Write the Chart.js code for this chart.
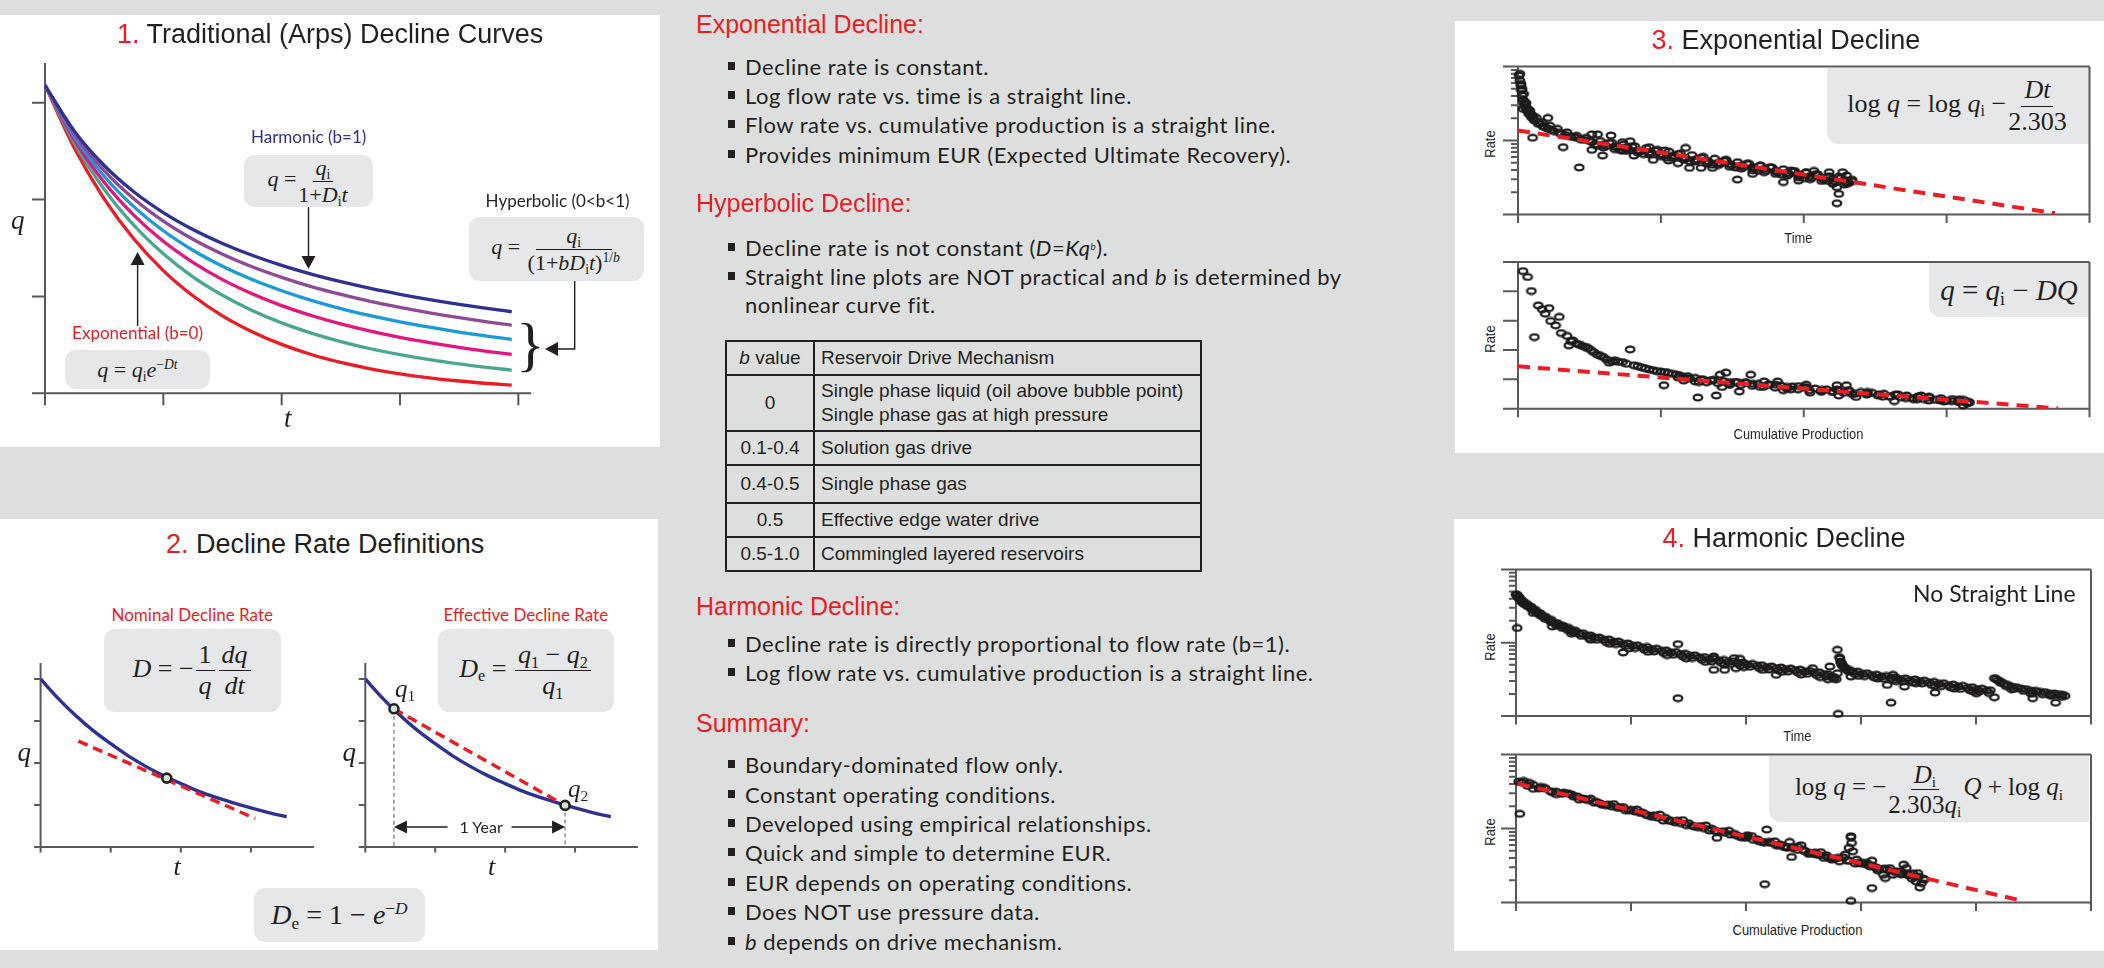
<!DOCTYPE html>
<html>
<head>
<meta charset="utf-8">
<title>Decline Curve Analysis</title>
<script src="https://cdn.jsdelivr.net/npm/chart.js@4.4.1/dist/chart.umd.min.js"></script>
<style>
html,body{margin:0;padding:0}
body{width:2104px;height:968px;background:#dddfde;position:relative;overflow:hidden;font-family:"Liberation Sans",Arial,sans-serif;color:#231f20}
.panel{position:absolute;background:#fff;z-index:0}
.box{position:absolute;background:#e6e7e8;border-radius:11px;z-index:1;display:flex;align-items:center;justify-content:center;font-family:"Liberation Serif","Times New Roman",serif;white-space:nowrap;color:#231f20}
.box i{font-style:italic}
canvas{position:absolute;z-index:2}
.t{position:absolute;white-space:nowrap;z-index:3;line-height:1.2}
.title{font-size:27px}
.title .n{color:#ed1c24}
.head{font-size:25px;color:#ed1c24}
.bul{font-family:Lato,"Liberation Sans",sans-serif;font-size:22px;letter-spacing:0.5px}
.sq{display:inline-block;width:7px;height:8px;background:#231f20;vertical-align:5px;margin-right:10px}
.lab{font-family:Lato,"Liberation Sans",sans-serif;font-size:17px}
.ser{font-family:"Liberation Serif","Times New Roman",serif;font-style:italic}
.cond{font-family:"Liberation Sans Narrow","Liberation Sans",sans-serif;font-size:15px}
.t.cond{transform:scaleX(.86)}
.rot{position:absolute;z-index:3;white-space:nowrap;transform:translate(-50%,-50%) rotate(-90deg) scaleX(.86)}
.fr{display:inline-flex;flex-direction:column;align-items:center;vertical-align:middle;line-height:1.08;margin:0 2px}
.fr>span:first-child{border-bottom:1.5px solid #231f20;padding:0 3px 1px}
.fr>span:last-child{padding-top:1px}
sub{font-size:62%;vertical-align:-0.28em;font-style:normal;line-height:0}
sup{font-size:62%;vertical-align:0.6em;line-height:0}
.tb{position:absolute;left:725px;top:340px;border-collapse:collapse;width:477px;font-size:19px;z-index:3}
.tb td{border:2px solid #231f20;padding:0 0 0 6px;line-height:24px;white-space:nowrap}
.tb td.c{text-align:center;width:86px;padding:0}
</style>
</head>
<body>

<!-- white panels -->
<div class="panel" style="left:0;top:15px;width:660px;height:432px"></div>
<div class="panel" style="left:0;top:519px;width:658px;height:431px"></div>
<div class="panel" style="left:1455px;top:21px;width:649px;height:432px"></div>
<div class="panel" style="left:1454px;top:519px;width:650px;height:432px"></div>

<!-- formula boxes, panel 1 -->
<div class="box" style="left:244px;top:155px;width:129px;height:52px;font-size:22px"><span><i>q</i>&nbsp;=<span class="fr"><span><i>q</i><sub>i</sub></span><span>1+<i>D</i><sub>i</sub><i>t</i></span></span></span></div>
<div class="box" style="left:469px;top:217px;width:175px;height:64px;font-size:22px"><span><i>q</i>&nbsp;=&nbsp;<span class="fr"><span>&nbsp;&nbsp;&nbsp;&nbsp;&nbsp;<i>q</i><sub>i</sub>&nbsp;&nbsp;&nbsp;&nbsp;&nbsp;</span><span>(1+<i>bD</i><sub>i</sub><i>t</i>)<sup>1/<i>b</i></sup></span></span></span></div>
<div class="box" style="left:65px;top:350px;width:145px;height:39px;font-size:22px"><span><i>q</i>&nbsp;=&nbsp;<i>q</i><sub>i</sub><i>e</i><sup>−<i>Dt</i></sup></span></div>

<!-- formula boxes, panel 2 -->
<div class="box" style="left:104px;top:629px;width:177px;height:83px;font-size:26px"><span><i>D</i>&nbsp;=&nbsp;−<span class="fr"><span>1</span><span><i>q</i></span></span><span class="fr"><span><i>dq</i></span><span><i>dt</i></span></span></span></div>
<div class="box" style="left:438px;top:629px;width:176px;height:83px;font-size:26px"><span><i>D</i><sub>e</sub>&nbsp;=&nbsp;<span class="fr"><span><i>q</i><sub>1</sub>&nbsp;−&nbsp;<i>q</i><sub>2</sub></span><span><i>q</i><sub>1</sub></span></span></span></div>
<div class="box" style="left:254px;top:888px;width:171px;height:54px;font-size:28px"><span><i>D</i><sub>e</sub>&nbsp;=&nbsp;1&nbsp;−&nbsp;<i>e</i><sup>−<i>D</i></sup></span></div>

<!-- formula boxes, panels 3 and 4 -->
<div class="box" style="left:1827px;top:68px;width:262px;height:76px;font-size:26px;border-radius:0 0 0 12px"><span>log&nbsp;<i>q</i>&nbsp;=&nbsp;log&nbsp;<i>q</i><sub>i</sub>&nbsp;−<span class="fr"><span><i>Dt</i></span><span>2.303</span></span></span></div>
<div class="box" style="left:1929px;top:263px;width:160px;height:54px;font-size:29px;border-radius:0 0 0 12px"><span><i>q</i>&nbsp;=&nbsp;<i>q</i><sub>i</sub>&nbsp;−&nbsp;<i>DQ</i></span></div>
<div class="box" style="left:1769px;top:756px;width:320px;height:66px;font-size:25px;border-radius:0 0 0 12px"><span>log&nbsp;<i>q</i>&nbsp;=&nbsp;−<span class="fr"><span><i>D</i><sub>i</sub></span><span>2.303<i>q</i><sub>i</sub></span></span><i>Q</i>&nbsp;+&nbsp;log&nbsp;<i>q</i><sub>i</sub></span></div>

<!-- panel titles -->
<div class="t title" data-cx="330" data-b="43"><span class="n">1.</span> Traditional (Arps) Decline Curves</div>
<div class="t title" data-cx="325" data-b="553"><span class="n">2.</span> Decline Rate Definitions</div>
<div class="t title" data-cx="1786" data-b="49"><span class="n">3.</span> Exponential Decline</div>
<div class="t title" data-cx="1784" data-b="547"><span class="n">4.</span> Harmonic Decline</div>

<!-- panel 1 labels -->
<div class="t lab" data-cx="308.5" data-b="143" style="color:#2e3192">Harmonic (b=1)</div>
<div class="t lab" data-cx="557.6" data-b="207">Hyperbolic (0&lt;b&lt;1)</div>
<div class="t lab" data-cx="137.6" data-b="339" style="color:#ed1c24">Exponential (b=0)</div>
<div class="t ser" data-cx="18" data-b="229" style="font-size:27px">q</div>
<div class="t ser" data-cx="288" data-b="427" style="font-size:27px">t</div>

<!-- panel 2 labels -->
<div class="t lab" data-cx="192" data-b="621" style="color:#ed1c24">Nominal Decline Rate</div>
<div class="t lab" data-cx="526" data-b="621" style="color:#ed1c24">Effective Decline Rate</div>
<div class="t ser" data-cx="24.5" data-b="761" style="font-size:27px">q</div>
<div class="t ser" data-cx="349.5" data-b="761" style="font-size:27px">q</div>
<div class="t ser" data-cx="177" data-b="875" style="font-size:26px">t</div>
<div class="t ser" data-cx="491.5" data-b="875" style="font-size:26px">t</div>
<div class="t ser" data-x="395" data-b="697" style="font-size:25px">q<sub>1</sub></div>
<div class="t ser" data-x="568" data-b="797" style="font-size:25px">q<sub>2</sub></div>
<div class="t lab" data-cx="481" data-b="833" style="font-size:16px">1 Year</div>

<!-- panels 3 and 4 labels -->
<div class="t cond" data-cx="1798" data-b="243">Time</div>
<div class="t cond" data-cx="1798" data-b="439">Cumulative Production</div>
<div class="t cond" data-cx="1797" data-b="741">Time</div>
<div class="t cond" data-cx="1797" data-b="935">Cumulative Production</div>
<div class="rot cond" style="left:1489px;top:144px">Rate</div>
<div class="rot cond" style="left:1489px;top:339px">Rate</div>
<div class="rot cond" style="left:1489px;top:647px">Rate</div>
<div class="rot cond" style="left:1489px;top:832px">Rate</div>
<div class="t lab" data-rx="2076" data-b="602" style="font-size:23px">No Straight Line</div>

<!-- middle column -->
<div class="t head" data-x="696" data-b="33">Exponential Decline:</div>
<div class="t bul" data-x="728" data-b="75"><span class="sq"></span>Decline rate is constant.</div>
<div class="t bul" data-x="728" data-b="104"><span class="sq"></span>Log flow rate vs. time is a straight line.</div>
<div class="t bul" data-x="728" data-b="133"><span class="sq"></span>Flow rate vs. cumulative production is a straight line.</div>
<div class="t bul" data-x="728" data-b="163"><span class="sq"></span>Provides minimum EUR (Expected Ultimate Recovery).</div>

<div class="t head" data-x="696" data-b="212">Hyperbolic Decline:</div>
<div class="t bul" data-x="728" data-b="256"><span class="sq"></span>Decline rate is not constant (<i>D</i>=<i>Kq</i><sup style="font-size:45%"><i>b</i></sup>).</div>
<div class="t bul" data-x="728" data-b="285"><span class="sq"></span>Straight line plots are NOT practical and <i>b</i> is determined by</div>
<div class="t bul" data-x="745" data-b="313">nonlinear curve fit.</div>

<table class="tb">
<tr style="height:34px"><td class="c"><i>b</i> value</td><td>Reservoir Drive Mechanism</td></tr>
<tr style="height:56px"><td class="c">0</td><td>Single phase liquid (oil above bubble point)<br>Single phase gas at high pressure</td></tr>
<tr style="height:34px"><td class="c">0.1-0.4</td><td>Solution gas drive</td></tr>
<tr style="height:38px"><td class="c">0.4-0.5</td><td>Single phase gas</td></tr>
<tr style="height:34px"><td class="c">0.5</td><td>Effective edge water drive</td></tr>
<tr style="height:34px"><td class="c">0.5-1.0</td><td>Commingled layered reservoirs</td></tr>
</table>

<div class="t head" data-x="696" data-b="615">Harmonic Decline:</div>
<div class="t bul" data-x="728" data-b="652"><span class="sq"></span>Decline rate is directly proportional to flow rate (b=1).</div>
<div class="t bul" data-x="728" data-b="681"><span class="sq"></span>Log flow rate vs. cumulative production is a straight line.</div>

<div class="t head" data-x="696" data-b="732">Summary:</div>
<div class="t bul" data-x="728" data-b="773"><span class="sq"></span>Boundary-dominated flow only.</div>
<div class="t bul" data-x="728" data-b="803"><span class="sq"></span>Constant operating conditions.</div>
<div class="t bul" data-x="728" data-b="832"><span class="sq"></span>Developed using empirical relationships.</div>
<div class="t bul" data-x="728" data-b="861"><span class="sq"></span>Quick and simple to determine EUR.</div>
<div class="t bul" data-x="728" data-b="891"><span class="sq"></span>EUR depends on operating conditions.</div>
<div class="t bul" data-x="728" data-b="920"><span class="sq"></span>Does NOT use pressure data.</div>
<div class="t bul" data-x="728" data-b="950"><span class="sq"></span><i>b</i> depends on drive mechanism.</div>

<!-- callout arrows and brace for panel 1 -->
<svg width="2104" height="968" style="position:absolute;left:0;top:0;z-index:3;pointer-events:none">
  <g stroke="#231f20" stroke-width="1.4" fill="none">
    <line x1="308.5" y1="207" x2="308.5" y2="258"/>
    <line x1="137.6" y1="326" x2="137.6" y2="263"/>
    <polyline points="574.7,281 574.7,349 556,349"/>
  </g>
  <g fill="#231f20">
    <polygon points="301.5,256 315.5,256 308.5,269"/>
    <polygon points="130.6,265 144.6,265 137.6,252"/>
    <polygon points="558,342 558,356 545,349"/>
  </g>
  <text x="516" y="364" font-family="Liberation Serif, Times New Roman, serif" font-size="60" fill="#231f20">}</text>
</svg>

<script>
// ---------- Arps decline curves (panel 1) ----------
const ARPS_T      = [0, 0.25, 0.5, 0.75, 1, 1.25, 1.5, 1.75, 2, 2.25, 2.5, 2.75, 3, 3.25, 3.5, 3.75, 3.944];
const Q_HARMONIC  = [3.18, 2.704, 2.352, 2.081, 1.866, 1.691, 1.547, 1.425, 1.321, 1.231, 1.152, 1.083, 1.022, 0.967, 0.918, 0.874, 0.842];
const Q_B08       = [3.18, 2.675, 2.299, 2.008, 1.777, 1.590, 1.436, 1.306, 1.197, 1.102, 1.021, 0.949, 0.887, 0.831, 0.781, 0.736, 0.705];
const Q_B06       = [3.18, 2.645, 2.241, 1.927, 1.678, 1.477, 1.312, 1.174, 1.059, 0.960, 0.875, 0.802, 0.738, 0.682, 0.632, 0.588, 0.557];
const Q_B04       = [3.18, 2.614, 2.179, 1.840, 1.569, 1.352, 1.174, 1.028, 0.905, 0.803, 0.716, 0.641, 0.577, 0.522, 0.473, 0.431, 0.402];
const Q_B02       = [3.18, 2.577, 2.107, 1.736, 1.441, 1.203, 1.012, 0.855, 0.727, 0.622, 0.534, 0.460, 0.399, 0.347, 0.303, 0.265, 0.240];
const Q_EXP       = [3.18, 2.527, 2.008, 1.595, 1.267, 1.007, 0.800, 0.636, 0.505, 0.401, 0.319, 0.253, 0.201, 0.160, 0.127, 0.101, 0.085];
const ARPS_COLORS = ['#2e3192', '#8f4a97', '#1a9ad6', '#e5147f', '#4aa78f', '#ed1c24'];

// ---------- decline-rate definitions (panel 2) ----------
const DEF_T = [0, 0.25, 0.5, 0.75, 1, 1.25, 1.5, 1.75, 2, 2.25, 2.5, 2.75, 3, 3.25, 3.51];
const DEF_Q = [4.00, 3.54, 3.13, 2.77, 2.46, 2.17, 1.92, 1.70, 1.51, 1.33, 1.18, 1.05, 0.93, 0.82, 0.72];
const NOMINAL_TANGENT = [[0.54, 2.52], [3.06, 0.68]];
const NOMINAL_POINT   = [[1.8, 1.64]];
const EFFECTIVE_POINTS = [[0.41, 3.29], [2.857, 0.99]];
const ONE_YEAR_LEVEL = 0.476;

// ---------- exponential field data (panel 3) ----------
const EXP_TIME_RATE = [
  [0.008,75.6],[0.013,64.7],[0.019,55.4],[0.024,47.4],[0.029,40.6],[0.035,35.4],[0.043,31.3],[0.051,28.2],[0.062,25.4],[0.075,22.9],
  [0.094,20.7],[0.115,18.6],[0.142,16.8],[0.174,15.5],[0.209,14.4],[0.249,13.4],[0.303,12.3],[0.370,11.3],[0.437,10.4],[0.517,9.60],
  [0.597,8.83],[0.678,8.30],[0.758,7.80],[0.839,7.33],[0.919,6.88],[0.999,6.54],[1.080,6.21],[1.160,5.89],[1.240,5.54],[1.321,5.26],
  [1.401,4.99],[1.482,4.79],[1.562,4.59],[1.642,4.36],[1.723,4.14],[1.803,3.89],[1.883,3.66],[1.964,3.47],[2.044,3.30],[2.125,3.16],
  [2.205,3.03],[2.285,2.94],[2.339,2.82],
  [0.477,10.9],[0.557,8.47],[0.638,9.30],[0.718,7.40],[0.798,8.21],[0.879,6.54],[0.959,7.29],[1.040,5.86],[1.120,6.57],[1.200,5.26],
  [1.281,5.86],[1.361,4.72],[1.441,5.31],[1.522,4.32],[1.602,4.86],[1.683,3.91],[1.763,4.36],[1.843,3.47],[1.924,3.87],[2.004,3.11],
  [2.084,3.51],[2.165,2.85],[2.245,3.25],[2.312,2.65],
  [0.537,8.88],[0.617,8.41],[0.697,7.96],[0.777,7.54],[0.857,7.13],[0.937,6.76],[1.017,6.39],[1.097,6.05],[1.177,5.73],[1.257,5.42],
  [1.337,5.13],[1.417,4.86],[1.497,4.61],[1.577,4.36],[1.657,4.13],[1.737,3.90],[1.817,3.69],[1.897,3.50],[1.977,3.32],[2.057,3.14],
  [2.137,2.97],[2.217,2.81],[2.297,2.66],
  [0.577,9.84],[0.657,9.32],[0.737,8.82],[0.817,8.35],[0.897,7.90],[0.977,7.48],[1.057,7.08],[1.137,6.70],[1.217,6.35],[1.297,6.01],
  [1.377,5.68],[1.457,5.38],[1.537,5.10],[1.617,4.83],[1.697,4.57],[1.777,4.32],[1.857,4.09],[1.937,3.87],[2.017,3.67],[2.097,3.48],
  [2.177,3.29],[2.257,3.11],[2.337,2.95],
  [0.597,8.07],[0.678,7.64],[0.758,7.23],[0.839,6.84],[0.919,6.47],[0.999,6.13],[1.080,5.80],[1.160,5.49],[1.240,5.20],[1.321,4.92],
  [1.401,4.65],[1.482,4.41],[1.562,4.17],[1.642,3.95],[1.723,3.73],[1.803,3.54],[1.883,3.35],[1.964,3.17],[2.044,3.00],[2.125,2.84],
  [2.205,2.68],[2.285,2.54],
  [0.013,79.6],[0.021,58.3],[0.029,49.9],[0.040,42.7],[0.035,26.8],[0.056,31.9],[0.083,25.4],[0.102,21.8],[0.129,20.2],[0.169,17.7],
  [0.222,15.9],[0.276,14.4],[0.343,12.9],[0.410,11.6],
  [0.046,33.5],[0.067,27.0],[0.088,22.6],[0.108,19.8],[0.155,16.9],[0.190,15.2],[0.230,14.0],[0.290,12.7],[0.330,11.9],[0.400,11.0],
  [0.460,10.2],[0.500,9.9],
  [0.102,10.9],[0.209,20.2],[0.316,8.13],[0.429,4.32],[0.517,12.1],[0.557,12.1],[0.651,11.7],[0.517,7.48],[0.592,6.27],[0.731,9.49],
  [0.785,9.79],[0.812,6.27],[0.919,8.13],[0.946,5.48],[1.120,4.94],[1.173,7.96],[1.200,4.27],[1.281,4.27],[1.361,4.27],[1.455,5.48],
  [1.535,2.97],[1.642,3.54],[1.696,4.59],[1.857,2.74],[1.910,3.93],[2.071,3.88],[2.178,3.73],[2.232,2.34],[2.245,1.90],[2.232,1.42],
  [2.272,3.73],[2.299,3.37],[2.312,2.74],[2.205,2.60],[1.964,2.88],[2.017,3.73],[1.026,7.33],[1.053,5.37],[0.731,7.33]
];
const EXP_TIME_FIT = [[0, 13.65], [3.759, 1.04]];

const EXP_CUM_RATE = [
  [0.035,4.69],[0.067,4.49],[0.094,4.01],[0.142,3.52],[0.169,3.39],[0.217,3.43],[0.190,3.24],[0.228,2.99],[0.263,2.84],[0.289,3.13],
  [0.303,2.58],[0.343,2.48],[0.356,2.16],[0.115,2.44],[0.383,2.33],[0.410,2.22],[0.450,2.14],[0.490,2.07],[0.530,1.93],[0.557,1.84],
  [0.597,1.76],[0.638,1.57],[0.678,1.65],[0.731,1.59],[0.785,2.02],[0.812,1.48],[0.865,1.41],[0.919,1.34],[0.973,1.28],[1.026,1.25],
  [1.021,0.80],[1.080,1.19],[1.133,1.14],[1.187,1.11],[1.240,1.05],[1.259,0.38],[1.294,1.00],[1.348,0.97],[1.388,0.45],[1.415,1.16],
  [1.455,1.23],[1.428,0.74],[1.482,0.91],[1.535,0.91],[1.549,0.59],[1.629,1.16],[1.642,0.85],[1.723,0.93],[1.750,0.82],[1.817,0.93],
  [1.857,0.63],[1.883,0.74],[1.964,0.77],[2.017,0.82],[2.044,0.55],[2.125,0.64],[2.205,0.59],[2.232,0.80],[2.245,0.45],[2.299,0.80],
  [2.312,0.63],[2.366,0.40],[2.446,0.51],[2.526,0.48],[2.634,0.26],[2.607,0.41],[2.714,0.36],[2.794,0.32],[2.821,0.45],[2.875,0.28],
  [2.955,0.28],[3.035,0.26],[3.089,0.23],[3.116,0.11],[3.156,0.23],
  [1.160,1.06],[1.267,0.91],[1.374,0.98],[1.482,0.82],[1.589,0.90],[1.696,0.74],[1.803,0.82],[1.910,0.66],[2.017,0.73],[2.125,0.58],
  [2.232,0.65],[2.339,0.50],[2.446,0.57],[2.553,0.41],[2.660,0.49],[2.768,0.33],[2.875,0.41],[2.982,0.25],[3.089,0.32],[3.143,0.18],
  [1.12,1.06],[1.20,1.03],[1.28,1.00],[1.36,0.97],[1.44,0.94],[1.52,0.91],[1.60,0.88],[1.68,0.85],[1.76,0.82],[1.84,0.79],
  [1.92,0.76],[2.00,0.73],[2.08,0.69],[2.16,0.66],[2.24,0.63],[2.32,0.60],[2.40,0.57],[2.48,0.54],[2.56,0.51],[2.64,0.48],
  [2.72,0.45],[2.80,0.42],[2.88,0.39],[2.96,0.36],[3.04,0.33],[3.12,0.30],
  [1.16,0.96],[1.24,0.93],[1.32,0.90],[1.40,0.87],[1.48,0.84],[1.56,0.81],[1.64,0.78],[1.72,0.75],[1.80,0.72],[1.88,0.69],
  [1.96,0.66],[2.04,0.63],[2.12,0.60],[2.20,0.57],[2.28,0.54],[2.36,0.51],[2.44,0.48],[2.52,0.45],[2.60,0.42],[2.68,0.39],
  [2.76,0.36],[2.84,0.33],[2.92,0.30],[3.00,0.27],[3.08,0.24],[3.16,0.21],
  [0.37,2.30],[0.43,2.18],[0.47,2.10],[0.51,2.00],[0.58,1.80],[0.62,1.68],[0.66,1.61],[0.70,1.60],[0.76,1.53],[0.84,1.45],
  [0.89,1.38],[0.95,1.31],[1.00,1.27],[1.05,1.22],[1.11,1.16]
];
const EXP_CUM_FIT = [[0, 1.443], [3.78, 0.01]];

// ---------- harmonic field data (panel 4) ----------
const HARM_TIME_RATE = [
  [0.000,45.4],[0.017,42.2],[0.033,38.8],[0.050,36.4],[0.077,34.2],[0.110,31.5],[0.150,28.3],[0.190,25.5],[0.233,22.9],[0.283,20.7],
  [0.333,18.6],[0.383,17.1],[0.433,15.9],[0.483,14.8],[0.549,13.3],[0.616,12.5],[0.682,11.8],[0.765,11.0],[0.849,10.3],[0.932,9.69],
  [1.015,9.10],[1.098,8.63],[1.181,8.19],[1.265,7.77],[1.348,7.37],[1.431,7.00],[1.514,6.64],[1.597,6.30],[1.681,5.97],[1.764,5.73],
  [1.847,5.49],[1.930,5.27],[2.013,5.05],[2.097,4.84],[2.180,4.64],[2.263,4.50],[2.346,4.36],[2.429,4.22],[2.512,4.05],[2.596,3.88],
  [2.679,3.72],[2.745,3.46],[2.785,3.18],[2.812,6.36],[2.822,5.55],[2.839,4.84],[2.872,4.36],[2.928,4.01],[3.012,3.76],[3.095,3.61],
  [3.178,3.46],[3.261,3.32],[3.344,3.18],[3.428,3.08],[3.511,2.99],[3.594,2.86],[3.677,2.74],[3.760,2.63],[3.844,2.52],[3.927,2.42],
  [4.010,2.32],[4.093,2.22],[4.160,3.28],[4.193,3.05],[4.243,2.74],[4.309,2.52],[4.393,2.37],[4.476,2.22],[4.559,2.13],[4.642,2.04],
  [4.725,1.96],[4.775,1.88],
  [0.008,45.5],[0.025,42.0],[0.042,39.0],[0.063,36.6],[0.093,34.0],[0.130,31.1],[0.170,28.1],[0.211,25.2],[0.258,22.6],[0.308,20.5],
  [0.358,18.6],[0.408,17.1],[0.458,15.9],[0.516,14.6],[0.582,13.5],[0.649,12.6],[0.723,11.8],[0.807,11.1],[0.890,10.4],[0.973,9.77],
  [1.056,9.22],[1.140,8.75],[1.223,8.30],[1.306,7.87],[1.390,7.47],[1.472,7.09],[1.556,6.73],[1.639,6.38],[1.722,6.08],[1.806,5.83],
  [1.889,5.59],[1.972,5.37],[2.055,5.14],[2.138,4.93],[2.222,4.75],[2.305,4.60],[2.388,4.46],[2.471,4.30],[2.554,4.13],[2.638,3.95],
  [2.712,3.73],[2.765,3.40],[2.817,6.10],[2.830,5.20],[2.855,4.65],[2.900,4.25],[2.970,4.04],[3.053,3.83],[3.136,3.67],[3.220,3.52],
  [3.302,3.37],[3.386,3.26],[3.470,3.16],[3.552,3.04],[3.636,2.92],[3.718,2.80],[3.802,2.69],[3.886,2.58],[3.968,2.47],[4.052,2.36],
  [4.125,2.25],[4.176,3.20],[4.218,2.92],[4.276,2.66],[4.351,2.48],[4.435,2.33],[4.518,2.21],[4.600,2.12],[4.684,2.03],[4.750,1.95],
  [0.020,42.2],[0.037,39.2],[0.053,36.1],[0.070,33.9],[0.097,31.8],[0.130,29.3],[0.170,26.3],[0.210,23.7],[0.253,21.3],[0.303,19.3],
  [0.353,17.3],[0.403,15.9],[0.453,14.8],[0.503,13.8],[0.569,12.4],[0.636,11.6],[0.702,11.0],[0.785,10.2],[0.869,9.58],[0.952,9.01],
  [1.035,8.46],[1.118,8.03],[1.201,7.62],[1.285,7.23],[1.368,6.85],[1.451,6.51],[1.534,6.18],[1.617,5.86],[1.701,5.55],[1.784,5.33],
  [1.867,5.11],[1.950,4.90],[2.033,4.70],[2.117,4.50],[2.200,4.32],[2.283,4.19],[2.366,4.05],[2.449,3.92],[2.532,3.77],[2.616,3.61],
  [2.699,3.46],[2.765,3.22],[2.832,5.16],[2.859,4.50],[2.892,4.05],[2.948,3.73],[3.032,3.50],[3.115,3.36],[3.198,3.22],[3.281,3.09],
  [3.364,2.96],[3.448,2.86],[3.531,2.78],[3.614,2.66],[3.697,2.55],[3.780,2.45],[3.864,2.34],[3.947,2.25],[4.030,2.16],[4.113,2.06],
  [4.213,2.84],[4.263,2.55],[4.329,2.34],[4.413,2.20],[4.496,2.06],[4.579,1.98],[4.662,1.90],[4.745,1.82],
  [0.150,25.5],[0.316,16.7],[0.483,13.3],[0.649,11.0],[0.815,9.69],[0.982,8.36],[1.148,7.53],[1.314,6.78],[1.481,6.10],[1.647,5.49],
  [1.814,5.05],[1.980,4.64],[2.146,4.27],[2.313,4.01],[2.479,3.68],[2.646,3.39],[2.712,3.18],[2.978,3.53],[3.145,3.25],[3.311,2.99],
  [3.478,2.80],[3.644,2.58],[3.810,2.37],[3.977,2.18],[4.309,2.32],[4.476,2.04],[4.642,1.92],
  [0.010,15.9],[0.932,7.37],[1.408,9.59],[1.408,1.75],[1.720,6.50],[1.720,4.27],[1.814,4.27],[1.897,6.17],[1.947,6.04],[1.913,4.50],
  [2.263,3.65],[2.579,4.50],[2.729,4.74],[2.795,3.84],[2.795,8.02],[2.802,1.07],[2.912,3.46],[3.228,2.66],[3.261,1.52],[3.278,3.65],
  [3.378,2.52],[3.644,2.09],[4.003,2.04],[4.160,1.80],[4.493,1.75],[4.692,1.52]
];

const HARM_CUM_RATE = [
  [0.023,43.0],[0.067,43.9],[0.116,41.3],[0.150,38.8],[0.216,36.4],[0.316,31.1],[0.416,30.5],[0.483,28.9],[0.582,25.5],[0.682,22.3],
  [0.782,20.7],[0.882,19.1],[0.932,19.5],[0.982,17.7],[1.082,16.2],[1.181,14.4],[1.281,12.8],[1.381,12.1],[1.481,11.1],[1.581,10.4],
  [1.681,9.40],[1.747,7.47],[1.814,8.73],[1.913,8.12],[1.997,7.47],[2.013,8.12],[2.113,6.73],[2.213,6.39],[2.280,5.94],[2.363,5.58],
  [2.379,6.59],[2.396,4.12],[2.413,5.47],[2.479,5.94],[2.512,4.92],[2.546,4.53],[2.612,4.44],[2.679,4.00],[2.745,3.80],[2.812,3.60],
  [2.862,4.44],[2.895,5.47],[2.912,7.87],[2.918,6.39],[2.928,4.92],[2.962,3.80],[3.012,3.42],[3.078,3.08],[3.095,3.68],[3.145,2.72],
  [3.195,2.37],[3.278,2.37],[3.344,2.64],[3.371,3.25],[3.394,2.93],[3.411,2.33],[3.444,2.10],[3.478,1.93],[3.511,1.60],[3.527,1.83],
  [3.494,2.50],
  [0.250,34.9],[0.349,31.5],[0.532,27.2],[0.632,24.2],[0.732,21.8],[0.832,19.9],[1.032,17.0],[1.131,15.3],[1.231,14.0],[1.331,12.8],
  [1.431,11.8],[1.531,10.9],[1.631,10.1],[1.731,9.30],[1.864,8.29],[1.963,7.63],[2.063,7.02],[2.163,6.52],[2.263,5.94],[2.329,5.64],
  [2.446,5.13],[2.579,4.63],[2.646,4.35],[2.712,4.08],[2.779,3.92],[2.879,3.68],[2.978,3.42],[3.045,3.25],[3.128,2.99],[3.228,2.78],
  [3.294,2.58],[3.361,2.45],[3.461,2.25],[3.544,2.10],
  [0.05,41.7],[0.15,34.4],[0.25,35.3],[0.35,29.1],[0.45,29.9],[0.55,24.6],[0.65,25.3],[0.75,20.9],[0.85,21.4],[0.95,17.7],
  [1.05,18.1],[1.15,15.0],[1.25,15.4],[1.35,12.7],[1.45,13.0],[1.55,10.7],[1.65,11.0],[1.75,9.09],[1.85,9.34],[1.95,7.70],
  [2.05,7.91],[2.15,6.52],[2.25,6.70],[2.35,5.52],[2.45,5.67],[2.55,4.67],[2.65,4.80],[2.75,3.96],[2.85,4.07],[2.95,3.35],
  [3.05,3.45],[3.15,2.84],[3.25,2.92],[3.35,2.40],[3.45,2.47],[3.55,2.03],
  [0.10,37.7],[0.20,34.7],[0.30,31.9],[0.40,29.4],[0.50,27.0],[0.60,24.9],[0.70,22.9],[0.80,21.1],[0.90,19.4],[1.00,17.8],
  [1.10,16.4],[1.20,15.1],[1.30,13.9],[1.40,12.8],[1.50,11.8],[1.60,10.8],[1.70,9.98],[1.80,9.18],[1.90,8.45],[2.00,7.78],
  [2.10,7.15],[2.20,6.58],[2.30,6.06],[2.40,5.58],[2.50,5.13],[2.60,4.72],[2.70,4.35],[2.80,4.00],[2.90,3.68],[3.00,3.39],
  [3.10,3.12],[3.20,2.87],[3.30,2.64],[3.40,2.43],[3.50,2.24],
  [0.033,15.8],[2.163,1.77],[2.180,9.69],[2.912,1.05],[3.095,1.57],[3.211,2.14],[2.912,7.63]
];
const HARM_CUM_FIT = [[0.017, 40.4], [4.409, 1.05]];

// ---------- axis tick positions ----------
const LOG_TICKS = [1,2,3,4,5,6,7,8,9,10,20,30,40,50,60,70,80,90,100];
const LOG_MAJOR = [1,10,100];

// ---------- drawing helpers ----------
const AXIS_COLOR = '#58595b';
const FIT_RED = '#ed1c24';

// axis lines, frame and tick marks, placed through the chart scales
const axesPlugin = {
  id: 'axes',
  beforeDatasetsDraw(chart, args, o) {
    const {ctx, chartArea: a, scales: {x, y}} = chart;
    ctx.save();
    ctx.strokeStyle = o.color;
    ctx.lineWidth = o.width;
    ctx.beginPath();
    ctx.moveTo(a.left, a.top); ctx.lineTo(a.left, a.bottom);
    ctx.moveTo(a.left - o.ext, a.bottom); ctx.lineTo(a.right, a.bottom);
    if (o.frame) {
      ctx.moveTo(a.left - o.ext, a.top); ctx.lineTo(a.right, a.top);
      ctx.moveTo(a.right, a.top); ctx.lineTo(a.right, a.bottom);
    }
    const majors = o.yMajor || [];
    (o.yTicks || []).forEach(v => {
      const p = y.getPixelForValue(v);
      const len = majors.includes(v) ? o.majorLen : o.minorLen;
      ctx.moveTo(a.left - len, p); ctx.lineTo(a.left, p);
    });
    (o.xTicks || []).forEach(v => {
      const p = x.getPixelForValue(v);
      ctx.moveTo(p, a.bottom); ctx.lineTo(p, a.bottom + o.xLen);
    });
    ctx.stroke();
    ctx.restore();
  }
};

// double-headed span arrow (one year between q1 and q2)
const spanArrow = {
  id: 'spanArrow',
  afterDatasetsDraw(chart, args, o) {
    if (o.from === undefined) return;
    const {ctx, scales: {x, y}} = chart;
    const x0 = x.getPixelForValue(o.from), x1 = x.getPixelForValue(o.to), py = y.getPixelForValue(o.level);
    const cx = (x0 + x1) / 2, g = o.gap, h = 13, w = 6.5;
    ctx.save();
    ctx.strokeStyle = '#231f20'; ctx.fillStyle = '#231f20'; ctx.lineWidth = 1.3;
    ctx.beginPath();
    ctx.moveTo(x0 + h, py); ctx.lineTo(cx - g, py);
    ctx.moveTo(cx + g, py); ctx.lineTo(x1 - h, py);
    ctx.stroke();
    ctx.beginPath(); ctx.moveTo(x0, py); ctx.lineTo(x0 + h, py - w); ctx.lineTo(x0 + h, py + w); ctx.closePath(); ctx.fill();
    ctx.beginPath(); ctx.moveTo(x1, py); ctx.lineTo(x1 - h, py - w); ctx.lineTo(x1 - h, py + w); ctx.closePath(); ctx.fill();
    ctx.restore();
  }
};

// hollow elliptical marker used by the field-data scatter plots
const ring = (() => {
  const c = document.createElement('canvas');
  c.width = 12; c.height = 9;
  const g = c.getContext('2d');
  g.strokeStyle = '#1d1a1b'; g.lineWidth = 2.2;
  g.beginPath(); g.ellipse(6, 4.5, 4.3, 2.9, 0, 0, Math.PI * 2); g.stroke();
  return c;
})();

// canvas whose plotting rectangle lands on the given page rectangle
function plotCanvas(l, t, r, b, m) {
  const L = Math.floor(l - m), T = Math.floor(t - m);
  const R = Math.ceil(r + m), B = Math.ceil(b + m);
  const c = document.createElement('canvas');
  c.width = R - L; c.height = B - T;
  c.style.left = L + 'px'; c.style.top = T + 'px';
  c.style.width = (R - L) + 'px'; c.style.height = (B - T) + 'px';
  document.body.appendChild(c);
  return {canvas: c, padding: {left: l - L, top: t - T, right: R - r, bottom: B - b}};
}

function opts(pad, xr, yr, axes, ylog, extra) {
  return {
    responsive: false, animation: false, devicePixelRatio: 1, events: [],
    layout: {padding: pad},
    scales: {
      x: {type: 'linear', min: xr[0], max: xr[1], display: false},
      y: {type: ylog ? 'logarithmic' : 'linear', min: yr[0], max: yr[1], display: false}
    },
    plugins: Object.assign({legend: {display: false}, tooltip: {enabled: false}, axes}, extra || {})
  };
}

const toXY = (xs, ys) => xs.map((v, i) => ({x: v, y: ys[i]}));

// ---------- panel 1: Arps curves ----------
{
  const p = plotCanvas(45, 63, 531, 393.3, 22);
  const series = [Q_HARMONIC, Q_B08, Q_B06, Q_B04, Q_B02, Q_EXP];
  new Chart(p.canvas, {
    type: 'line',
    data: {datasets: series.map((q, i) => ({
      data: toXY(ARPS_T, q), borderColor: ARPS_COLORS[i], borderWidth: 3.3,
      pointRadius: 0, cubicInterpolationMode: 'monotone', fill: false
    }))},
    options: opts(p.padding, [0, 4.107], [0, 3.41],
      {color: AXIS_COLOR, width: 2, ext: 13, yTicks: [1, 2, 3], yMajor: [1, 2, 3], majorLen: 13, minorLen: 13, xTicks: [0, 1, 2, 3, 4], xLen: 12}),
    plugins: [axesPlugin]
  });
}

// ---------- panel 2: nominal and effective decline ----------
const defAxes = {color: AXIS_COLOR, width: 2, ext: 6.5, yTicks: [1, 2, 3, 4], yMajor: [], majorLen: 6.5, minorLen: 6.5, xTicks: [0, 1, 2, 3], xLen: 5.5};
const marker = {pointRadius: 4.5, pointBackgroundColor: '#cfe6d4', pointBorderColor: '#231f20', pointBorderWidth: 2.6, showLine: false};
{
  const p = plotCanvas(40.6, 663, 314, 847, 14);
  new Chart(p.canvas, {
    type: 'scatter',
    data: {datasets: [
      Object.assign({data: NOMINAL_POINT}, marker),
      {type: 'line', data: NOMINAL_TANGENT, borderColor: FIT_RED, borderWidth: 3.4, borderDash: [10, 6], pointRadius: 0},
      {type: 'line', data: toXY(DEF_T, DEF_Q), borderColor: '#2e3192', borderWidth: 3.4, pointRadius: 0, cubicInterpolationMode: 'monotone'}
    ]},
    options: opts(p.padding, [0, 3.9], [0, 4.381], defAxes),
    plugins: [axesPlugin]
  });
}
{
  const p = plotCanvas(365.3, 663, 638, 847, 14);
  new Chart(p.canvas, {
    type: 'scatter',
    data: {datasets: [
      Object.assign({data: EFFECTIVE_POINTS}, marker),
      {type: 'line', data: EFFECTIVE_POINTS, borderColor: FIT_RED, borderWidth: 3.4, borderDash: [10, 6], pointRadius: 0},
      {type: 'line', data: [[EFFECTIVE_POINTS[0][0], EFFECTIVE_POINTS[0][1]], [EFFECTIVE_POINTS[0][0], 0]], borderColor: '#555', borderWidth: 1, borderDash: [4, 3], pointRadius: 0},
      {type: 'line', data: [[EFFECTIVE_POINTS[1][0], EFFECTIVE_POINTS[1][1]], [EFFECTIVE_POINTS[1][0], 0]], borderColor: '#555', borderWidth: 1, borderDash: [4, 3], pointRadius: 0},
      {type: 'line', data: toXY(DEF_T, DEF_Q), borderColor: '#2e3192', borderWidth: 3.4, pointRadius: 0, cubicInterpolationMode: 'monotone'}
    ]},
    options: opts(p.padding, [0, 3.9], [0, 4.381], defAxes,
      false, {spanArrow: {from: EFFECTIVE_POINTS[0][0], to: EFFECTIVE_POINTS[1][0], level: ONE_YEAR_LEVEL, gap: 32}}),
    plugins: [axesPlugin, spanArrow]
  });
}

// ---------- panels 3 and 4: field data ----------
const logAxes = (n) => ({color: AXIS_COLOR, width: 2, ext: 15, frame: true, yTicks: LOG_TICKS, yMajor: LOG_MAJOR, majorLen: 15, minorLen: 7, xTicks: Array.from({length: n + 1}, (_, i) => i), xLen: 8.5});
const scatterSet = (pts) => ({data: pts, pointStyle: ring, pointRadius: 4, clip: false});
const fitSet = (pts) => ({type: 'line', data: pts, borderColor: FIT_RED, borderWidth: 4, borderDash: [12, 8], pointRadius: 0});

{
  const p = plotCanvas(1518, 66.5, 2089.5, 214.5, 18);
  new Chart(p.canvas, {
    type: 'scatter',
    data: {datasets: [fitSet(EXP_TIME_FIT), scatterSet(EXP_TIME_RATE)]},
    options: opts(p.padding, [0, 4], [1, 100], logAxes(4), true),
    plugins: [axesPlugin]
  });
}
{
  const p = plotCanvas(1518, 262, 2089.5, 408.7, 18);
  const ax = logAxes(4);
  ax.yTicks = [1, 2, 3, 4]; ax.yMajor = [1, 2, 3, 4];
  new Chart(p.canvas, {
    type: 'scatter',
    data: {datasets: [fitSet(EXP_CUM_FIT), scatterSet(EXP_CUM_RATE)]},
    options: opts(p.padding, [0, 4], [0, 5.0], ax),
    plugins: [axesPlugin]
  });
}
{
  const p = plotCanvas(1516, 569.5, 2091, 716, 18);
  new Chart(p.canvas, {
    type: 'scatter',
    data: {datasets: [scatterSet(HARM_TIME_RATE)]},
    options: opts(p.padding, [0, 5], [1, 100], logAxes(5), true),
    plugins: [axesPlugin]
  });
}
{
  const p = plotCanvas(1516, 754.5, 2091, 902.5, 18);
  new Chart(p.canvas, {
    type: 'scatter',
    data: {datasets: [fitSet(HARM_CUM_FIT), scatterSet(HARM_CUM_RATE)]},
    options: opts(p.padding, [0, 5], [1, 100], logAxes(5), true),
    plugins: [axesPlugin]
  });
}

// ---------- text placement on baselines ----------
function placeTexts() {
  document.querySelectorAll('.t').forEach(el => {
    let m = el._mark;
    if (!m) {
      m = document.createElement('span');
      m.style.cssText = 'display:inline-block;width:0;height:0;vertical-align:baseline';
      el.insertBefore(m, el.firstChild);
      el._mark = m;
    }
    el.style.top = '0px';
    el.style.left = '0px';
    const base = parseFloat(el.dataset.b);
    el.style.top = (base - m.offsetTop) + 'px';
    const w = el.offsetWidth;
    if (el.dataset.cx) el.style.left = (parseFloat(el.dataset.cx) - w / 2) + 'px';
    else if (el.dataset.rx) el.style.left = (parseFloat(el.dataset.rx) - w) + 'px';
    else el.style.left = el.dataset.x + 'px';
  });
}
placeTexts();
if (document.fonts && document.fonts.ready) document.fonts.ready.then(placeTexts);
</script>
</body>
</html>
